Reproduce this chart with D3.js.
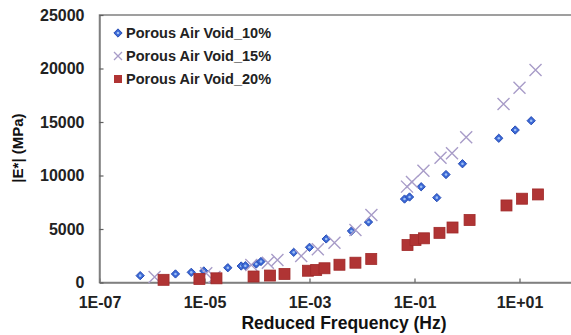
<!DOCTYPE html>
<html>
<head>
<meta charset="utf-8">
<script src="https://cdn.jsdelivr.net/npm/d3@7"></script>
<style>
  body { margin: 0; background: #fff; }
  svg { display: block; font-family: "Liberation Sans", Arial, sans-serif; }
</style>
</head>
<body>
<div id="chart"></div>
<script>
// series names
let seriesNames = ["Porous Air Void_10%", "Porous Air Void_15%", "Porous Air Void_20%"]

// Porous Air Void_10% (diamonds)
let freq10 = [5.96e-7, 2.8e-6, 5.6e-6, 9.7e-6, 2.78e-5, 5.0e-5, 6.0e-5, 9.7e-5, 1.19e-4, 5.0e-4, 1.0e-3,
    2.08e-3, 6.3e-3, 1.33e-2, 0.0646, 0.0804, 0.134, 0.266, 0.398, 0.82, 4.03, 8.28, 16.7]
let mod10 = [640, 800, 950, 1080, 1380, 1540, 1570, 1730, 1960, 2820, 3290,
    4070, 4810, 5650, 7800, 7990, 8950, 7930, 10090, 11100, 13480, 14250, 15120]

// Porous Air Void_15% (crosses)
let freq15 = [1.12e-6, 1.08e-5, 1.55e-5, 7.8e-5, 1.61e-4, 2.45e-4, 6.95e-4, 1.44e-3, 2.99e-3, 7.5e-3, 1.51e-2,
    0.072, 0.0895, 0.148, 0.313, 0.518, 0.966, 4.96, 10.0, 20.2]
let mod15 = [510, 860, 520, 1640, 1850, 2100, 2480, 3100, 3720, 4910, 6310,
    8960, 9400, 10450, 11670, 12080, 13580, 16690, 18210, 19870]

// Porous Air Void_20% (squares)
let freq20 = [1.66e-6, 8.0e-6, 1.69e-5, 8.6e-5, 1.77e-4, 3.34e-4, 9.35e-4, 1.34e-3, 1.93e-3, 3.72e-3, 7.5e-3, 1.5e-2,
    0.0736, 0.1045, 0.152, 0.299, 0.53, 1.12, 5.65, 11.2, 22.5]
let mod20 = [250, 330, 390, 560, 650, 800, 1100, 1170, 1330, 1660, 1850, 2200,
    3500, 3970, 4130, 4640, 5140, 5840, 7200, 7830, 8230]

let xTicks = [1e-7, 1e-5, 1e-3, 1e-1, 1e1]
let xTickLabels = ["1E-07", "1E-05", "1E-03", "1E-01", "1E+01"]
let yTicks = [0, 5000, 10000, 15000, 20000, 25000]

let width = 571
let height = 335
let plotLeft = 99.5, plotTop = 15, plotBottom = 282.5

let svg = d3.select("#chart")
    .append("svg")
    .attr("width", width)
    .attr("height", height)

let x = d3.scaleLog().domain([1e-7, 1e3]).range([plotLeft, plotLeft + 525])
let y = d3.scaleLinear().domain([0, 25000]).range([plotBottom, plotTop])

// frame (top and right edge, right one falls outside the picture)
svg.append("rect")
    .attr("x", plotLeft).attr("y", plotTop)
    .attr("width", 525).attr("height", plotBottom - plotTop)
    .attr("fill", "none")
    .attr("stroke", "#808080")
    .attr("stroke-width", 1.5)

let xAxis = svg.append("g")
    .attr("transform", "translate(0," + plotBottom + ")")
    .call(d3.axisBottom(x).tickValues(xTicks)
        .tickFormat((d, i) => xTickLabels[i])
        .tickSizeInner(-4).tickSizeOuter(0).tickPadding(14))
let yAxis = svg.append("g")
    .attr("transform", "translate(" + plotLeft + ",0)")
    .call(d3.axisLeft(y).tickValues(yTicks)
        .tickFormat(d3.format("d"))
        .tickSizeInner(-4).tickSizeOuter(0).tickPadding(15))

;[xAxis, yAxis].forEach(a => {
    a.select(".domain").attr("stroke", "#808080").attr("stroke-width", 1.5)
    a.selectAll(".tick line").attr("stroke", "#606060").attr("stroke-width", 1.2)
    a.selectAll(".tick text")
        .attr("fill", "#222")
        .style("font-size", "16px")
        .style("font-weight", "bold")
})

// axis titles
svg.append("text")
    .attr("x", 344).attr("y", 329)
    .attr("text-anchor", "middle")
    .style("font-size", "17.5px")
    .style("font-weight", "bold")
    .attr("fill", "#111")
    .text("Reduced Frequency (Hz)")
svg.append("text")
    .attr("transform", "translate(23,148) rotate(-90)")
    .attr("text-anchor", "middle")
    .style("font-size", "15px")
    .style("font-weight", "bold")
    .attr("fill", "#111")
    .text("|E*| (MPa)")

let pts = (fs, ms) => fs.map((f, i) => ({ f: f, m: ms[i] }))

// markers
let drawDiamond = (g, cx, cy) => {
    g.append("path")
        .attr("d", d3.symbol().type(d3.symbolDiamond2).size(44)())
        .attr("transform", "translate(" + cx + "," + cy + ")")
        .attr("fill", "#3a68d6")
        .attr("stroke", "#2b4fb5")
        .attr("stroke-width", 1)
    g.append("circle")
        .attr("cx", cx).attr("cy", cy).attr("r", 1.3)
        .attr("fill", "#9fc0f5")
}
let drawCross = (g, cx, cy) => {
    g.append("path")
        .attr("d", "M-6,-6L6,6M-6,6L6,-6")
        .attr("transform", "translate(" + cx + "," + cy + ")")
        .attr("stroke", "#a89cc8")
        .attr("stroke-width", 1.4)
        .attr("fill", "none")
}
let drawSquare = (g, cx, cy) => {
    g.append("rect")
        .attr("x", cx - 5.5).attr("y", cy - 5.5)
        .attr("width", 11).attr("height", 11)
        .attr("fill", "#b03434")
        .attr("stroke", "#a02a2a")
        .attr("stroke-width", 0.8)
}

let g10 = svg.append("g"), g15 = svg.append("g"), g20 = svg.append("g")
pts(freq15, mod15).forEach(d => drawCross(g15, x(d.f), y(d.m)))
pts(freq10, mod10).forEach(d => drawDiamond(g10, x(d.f), y(d.m)))
pts(freq20, mod20).forEach(d => drawSquare(g20, x(d.f), y(d.m)))

// legend
let legend = svg.append("g")
seriesNames.forEach((name, i) => {
    let ly = 33 + i * 23
    let mg = legend.append("g")
    if (i === 0) drawDiamond(mg, 118, ly)
    if (i === 1) {
        mg.append("path")
            .attr("d", "M-4,-4L4,4M-4,4L4,-4")
            .attr("transform", "translate(118," + ly + ")")
            .attr("stroke", "#a89cc8").attr("stroke-width", 1.3)
    }
    if (i === 2) {
        mg.append("rect").attr("x", 114).attr("y", ly - 4)
            .attr("width", 8).attr("height", 8).attr("fill", "#b03434")
    }
    legend.append("text")
        .attr("x", 126).attr("y", ly)
        .attr("dy", "0.35em")
        .style("font-size", "14.5px")
        .style("font-weight", "bold")
        .attr("fill", "#222")
        .text(name)
})
</script>
</body>
</html>
